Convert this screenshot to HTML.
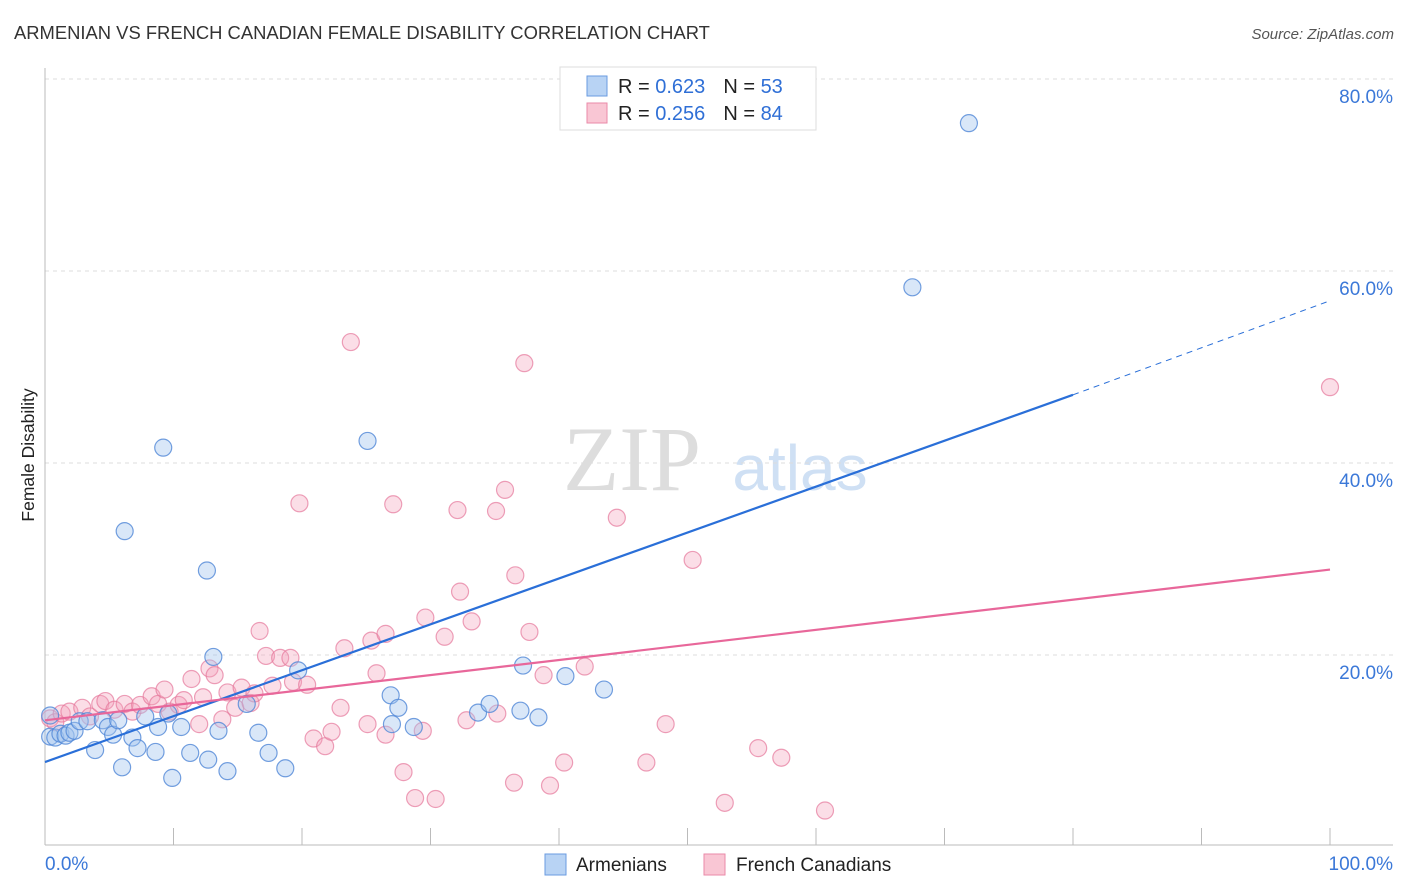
<!DOCTYPE html>
<html><head><meta charset="utf-8"><style>
body{margin:0;background:#fff;font-family:"Liberation Sans",sans-serif}
svg{display:block}
</style></head><body>
<svg id="chart" width="1406" height="892">
<text x="14" y="39" font-size="18.4" fill="#333">ARMENIAN VS FRENCH CANADIAN FEMALE DISABILITY CORRELATION CHART</text>
<text x="1394" y="39" font-size="15" fill="#555" font-style="italic" text-anchor="end">Source: ZipAtlas.com</text>
<text x="632" y="490" font-size="92" fill="#ddd" font-family="Liberation Serif,serif" text-anchor="middle">ZIP</text>
<text x="800" y="490" font-size="64" fill="#cfe0f4" text-anchor="middle">atlas</text>
<g id="grid"></g><g id="axes"></g><g id="marks"></g>
<text transform="translate(34,455) rotate(-90)" font-size="17.5" fill="#222" text-anchor="middle">Female Disability</text>
<g>
<rect x="560" y="67" width="256" height="63" fill="#fff" stroke="#ddd"/>
<rect x="587" y="76" width="20" height="20" fill="#b8d3f4" stroke="#6a9be0"/>
<rect x="587" y="103" width="20" height="20" fill="#f9c6d4" stroke="#ea8aa8"/>
<text x="618" y="93" font-size="20" fill="#222">R = <tspan fill="#2f6fd6">0.623</tspan><tspan dx="18">N = </tspan><tspan fill="#2f6fd6">53</tspan></text>
<text x="618" y="120" font-size="20" fill="#222">R = <tspan fill="#2f6fd6">0.256</tspan><tspan dx="18">N = </tspan><tspan fill="#2f6fd6">84</tspan></text>
</g>
<g>
<rect x="545" y="854" width="21" height="21" fill="#b8d3f4" stroke="#6a9be0"/>
<text x="576" y="871" font-size="19" fill="#222">Armenians</text>
<rect x="704" y="854" width="21" height="21" fill="#f9c6d4" stroke="#ea8aa8"/>
<text x="736" y="871" font-size="19" fill="#222">French Canadians</text>
</g>
</svg>
<script>
const yTicks=[20,40,60,80];
const yTickLabels=["20.0%","40.0%","60.0%","80.0%"];
const xEndLabels=["0.0%","100.0%"];
const blueX=[0.4,0.8,1.2,1.6,1.9,2.3,2.7,3.3,3.9,4.5,4.9,5.3,5.7,6.0,6.2,6.8,7.2,7.8,8.6,8.8,9.2,9.6,9.9,10.6,11.3,12.6,12.7,13.1,13.5,14.2,15.7,16.6,17.4,18.7,19.7,25.1,26.9,27.0,27.5,28.7,33.7,34.6,37.0,37.2,38.4,40.5,43.5,67.5,71.9,0.4];
const blueY=[11.5,11.4,11.8,11.6,11.9,12.1,13.1,13.1,10.1,13.2,12.5,11.7,13.2,8.3,32.9,11.4,10.3,13.6,9.9,12.5,41.6,13.9,7.2,12.5,9.8,28.8,9.1,19.8,12.1,7.9,14.9,11.9,9.8,8.2,18.4,42.3,15.8,12.8,14.5,12.5,14.0,14.9,14.2,18.9,13.5,17.8,16.4,58.3,75.4,13.7];
const pinkX=[0.4,0.8,1.3,1.9,2.9,3.5,4.3,4.7,5.4,6.2,6.8,7.4,8.3,8.8,9.3,9.7,10.4,10.8,11.4,12.0,12.3,12.8,13.2,13.8,14.2,14.8,15.3,16.0,16.3,16.7,17.2,17.7,18.3,19.1,19.3,19.8,20.4,20.9,21.8,22.3,23.0,23.3,23.8,25.1,25.4,25.8,26.5,26.5,27.1,27.9,28.8,29.4,29.6,30.4,31.1,32.1,32.3,32.8,33.2,35.1,35.2,35.8,36.5,36.6,37.3,37.7,38.8,39.3,40.4,42.0,44.5,46.8,48.3,50.4,52.9,55.5,57.3,60.7,100];
const pinkY=[13.4,13.0,13.9,14.1,14.5,13.6,14.9,15.2,14.3,14.9,14.1,14.8,15.7,14.9,16.4,14.1,14.8,15.3,17.5,12.8,15.6,18.6,17.9,13.3,16.1,14.5,16.6,15.0,16.0,22.5,19.9,16.8,19.7,19.7,17.2,35.8,16.9,11.3,10.5,12.0,14.5,20.7,52.6,12.8,21.5,18.1,22.2,11.7,35.7,7.8,5.1,12.1,23.9,5.0,21.9,35.1,26.6,13.2,23.5,35.0,13.9,37.2,6.7,28.3,50.4,22.4,17.9,6.4,8.8,18.8,34.3,8.8,12.8,29.9,4.6,10.3,9.3,3.8,47.9];
const blueTrend=[8.85,47.1,56.9]; // at x=0,80,100
const pinkTrend=[13.2,28.9]; // at x=0,100
const X=v=>45+v*12.85, Y=v=>847-v*9.6;
const NS="http://www.w3.org/2000/svg";
function mk(tag,attrs,parent){const e=document.createElementNS(NS,tag);for(const k in attrs)e.setAttribute(k,attrs[k]);document.getElementById(parent).appendChild(e);return e;}
yTicks.forEach((t,i)=>{
 const g=mk('line',{x1:45,x2:1393,y1:Y(t),y2:Y(t),stroke:'#ddd','stroke-dasharray':'4,4'},'grid');
 
 
 const l=mk('text',{x:1393,y:Y(t)+24,'font-size':19,fill:'#3b78d8','text-anchor':'end'},'grid');
 l.textContent=yTickLabels[i];
 
 
});
mk('line',{x1:45,x2:45,y1:68,y2:845,stroke:'#bbb'},'axes');
mk('line',{x1:45,x2:1393,y1:845,y2:845,stroke:'#bbb'},'axes');
for(let k=1;k<=10;k++){mk('line',{x1:X(k*10),x2:X(k*10),y1:828,y2:845,stroke:'#bbb'},'axes');}
const xl0=mk('text',{x:45,y:870,'font-size':19,fill:'#3b78d8'},'axes');xl0.textContent=xEndLabels[0];


const xl1=mk('text',{x:1393,y:870,'font-size':19,fill:'#3b78d8','text-anchor':'end'},'axes');xl1.textContent=xEndLabels[1];


pinkX.forEach((x,i)=>{
 const c=mk('circle',{cx:X(x),cy:Y(pinkY[i]),r:8.5,fill:'rgba(244,160,186,0.35)',stroke:'rgba(230,120,155,0.7)','stroke-width':1.2},'marks');
 
 
});
blueX.forEach((x,i)=>{
 const c=mk('circle',{cx:X(x),cy:Y(blueY[i]),r:8.5,fill:'rgba(160,195,238,0.4)',stroke:'rgba(80,135,215,0.8)','stroke-width':1.2},'marks');
 
 
});
const bl=mk('line',{x1:X(0),y1:Y(blueTrend[0]),x2:X(80),y2:Y(blueTrend[1]),stroke:'#2a6fd8','stroke-width':2.2},'marks');


const bd=mk('line',{x1:X(80),y1:Y(blueTrend[1]),x2:X(100),y2:Y(blueTrend[2]),stroke:'#2a6fd8','stroke-width':1,'stroke-dasharray':'6,5'},'marks');


const pl=mk('line',{x1:X(0),y1:Y(pinkTrend[0]),x2:X(100),y2:Y(pinkTrend[1]),stroke:'#e8679a','stroke-width':2.2},'marks');


</script>
</body></html>
